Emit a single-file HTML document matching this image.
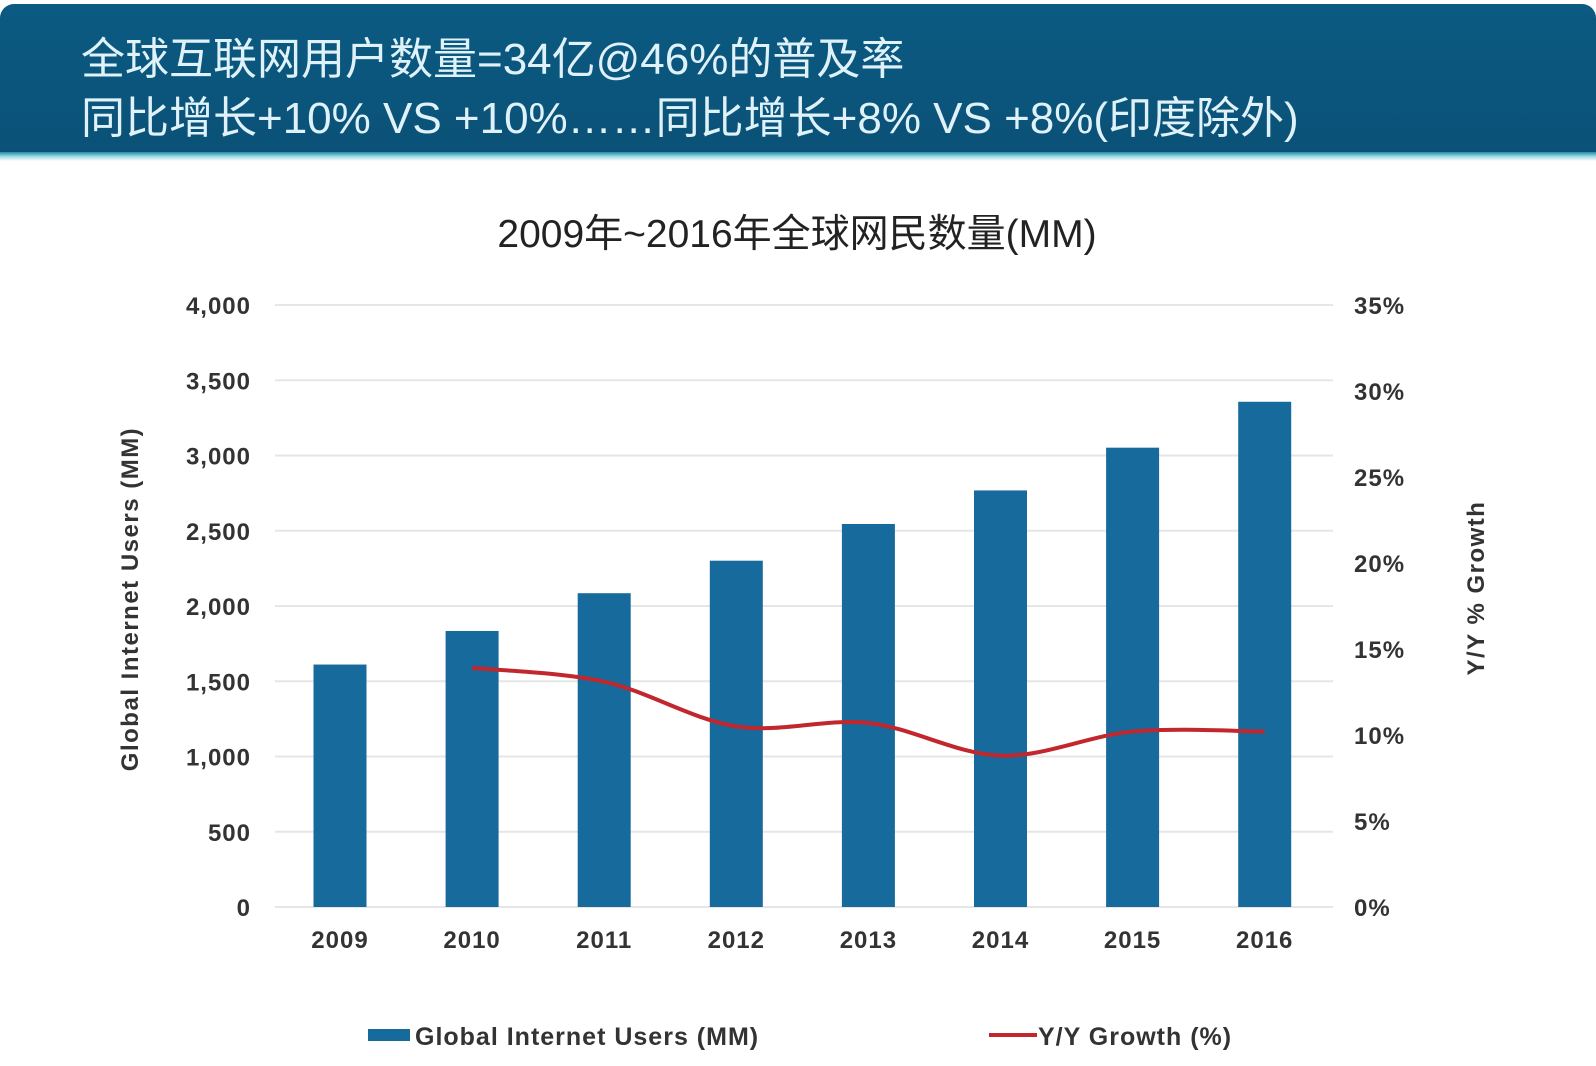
<!DOCTYPE html>
<html><head><meta charset="utf-8">
<style>
body{margin:0;width:1596px;height:1066px;background:#fff;overflow:hidden;font-family:"Liberation Sans","Noto Sans CJK SC",sans-serif;}
#hdr{position:absolute;left:0;top:4px;width:1596px;height:150px;background:linear-gradient(#0b5a82,#0b5177);border-radius:14px 14px 0 0;}
#strip{position:absolute;left:0;top:152px;width:1596px;height:9px;background:linear-gradient(#1b8fa8,#9fd9e6,#ffffff);}
.hl{position:absolute;left:81px;color:#dff2fa;font-size:44px;font-family:"Liberation Sans","Noto Sans CJK SC",sans-serif;white-space:nowrap;}
</style></head><body>
<div id="hdr"></div>
<div id="strip"></div>
<div class="hl" style="top:23px">全球互联网用户数量=34亿@46%的普及率</div>
<div class="hl" style="top:82px">同比增长+10% VS +10%……同比增长+8% VS +8%(印度除外)</div>
<svg id="chart" width="1596" height="1066" style="position:absolute;left:0;top:0"></svg>
<script>
const years=["2009","2010","2011","2012","2013","2014","2015","2016"];
const users=[1611,1834,2085,2301,2545,2768,3052,3357];
const growth=[null,13.9,13.1,10.5,10.7,8.8,10.2,10.2];
const leftTicks=[0,500,1000,1500,2000,2500,3000,3500,4000];
const rightTicks=[0,5,10,15,20,25,30,35];
const NS="http://www.w3.org/2000/svg";
const svg=document.getElementById('chart');
const y0=907,yTop=305,x0=275,x1=1333;
const yL=v=>y0-(v/4000)*(y0-yTop);
const yR=v=>y0-(v/35)*(y0-yTop);
const xC=i=>340+i*132.1;
function mk(t,a,txt){const e=document.createElementNS(NS,t);for(const k in a)e.setAttribute(k,a[k]);if(txt!=null)e.textContent=txt;svg.appendChild(e);return e;}
const F='"Liberation Sans","Noto Sans CJK SC",sans-serif';
let t=mk('text',{x:797,y:247,'text-anchor':'middle','font-size':39,fill:'#222','font-family':F},'2009年~2016年全球网民数量(MM)');


leftTicks.forEach(v=>{
 const g=mk('line',{x1:x0,x2:x1,y1:yL(v),y2:yL(v),stroke:'#e6e6e6','stroke-width':2});
 
 
 const l=mk('text',{x:251,y:yL(v)+9,'text-anchor':'end','font-size':24,'letter-spacing':1,'font-weight':'bold',fill:'#333','font-family':F},v.toLocaleString('en-US'));
 
 
});
rightTicks.forEach(v=>{
 const l=mk('text',{x:1354,y:yR(v)+9,'font-size':24,'letter-spacing':1,'font-weight':'bold',fill:'#333','font-family':F},v+'%');
 
 
});
users.forEach((v,i)=>{
 const b=mk('rect',{x:xC(i)-26.5,y:yL(v),width:53,height:y0-yL(v),fill:'#176a9c'});
 
 
 const l=mk('text',{x:xC(i),y:948,'text-anchor':'middle','font-size':24,'letter-spacing':1,'font-weight':'bold',fill:'#333','font-family':F},years[i]);
 
 
});
const pts=[];growth.forEach((v,i)=>{if(v!=null)pts.push([xC(i),yR(v)]);});
let d='M'+pts[0][0]+','+pts[0][1];
for(let i=0;i<pts.length-1;i++){
 const p0=pts[Math.max(i-1,0)],p1=pts[i],p2=pts[i+1],p3=pts[Math.min(i+2,pts.length-1)];
 const c1=[p1[0]+(p2[0]-p0[0])/6,p1[1]+(p2[1]-p0[1])/6],c2=[p2[0]-(p3[0]-p1[0])/6,p2[1]-(p3[1]-p1[1])/6];
 d+=' C'+c1+' '+c2+' '+p2;
}
const ln=mk('path',{d:d,fill:'none',stroke:'#c1272d','stroke-width':4});


t=mk('text',{transform:'translate(138,599) rotate(-90)','text-anchor':'middle','font-size':24,'letter-spacing':1.5,'font-weight':'bold',fill:'#333','font-family':F},'Global Internet Users (MM)');


t=mk('text',{transform:'translate(1484,588) rotate(-90)','text-anchor':'middle','font-size':24,'letter-spacing':1.5,'font-weight':'bold',fill:'#333','font-family':F},'Y/Y % Growth');


t=mk('rect',{x:368,y:1029,width:42,height:12,fill:'#176a9c'});


t=mk('text',{x:415,y:1045,'font-size':25,'letter-spacing':1,'font-weight':'bold',fill:'#333','font-family':F},'Global Internet Users (MM)');


t=mk('line',{x1:989,x2:1037,y1:1035,y2:1035,stroke:'#c1272d','stroke-width':4});


t=mk('text',{x:1038,y:1045,'font-size':25,'letter-spacing':1,'font-weight':'bold',fill:'#333','font-family':F},'Y/Y Growth (%)');


</script>
</body></html>
